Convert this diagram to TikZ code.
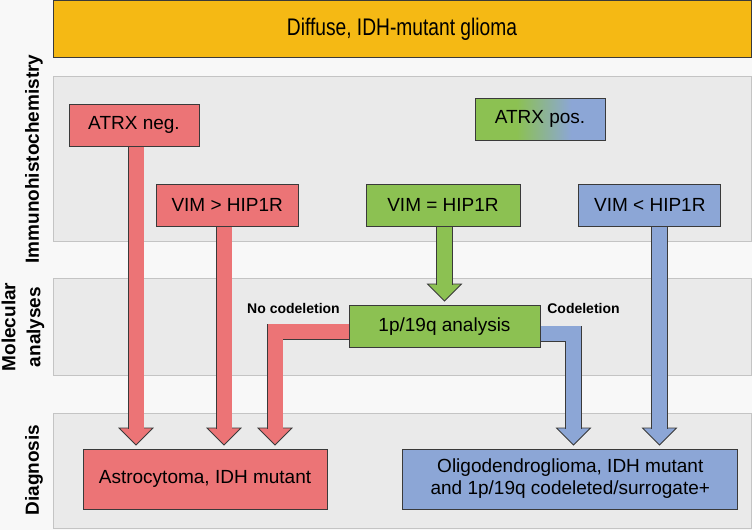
\documentclass[tikz,border=0pt]{standalone}
\usepackage{fontspec}
\setmainfont{Liberation Sans}
\usepackage{graphicx}
\usepackage{tikz}
\usetikzlibrary{calc,positioning}
\definecolor{bgcol}{HTML}{F8F8F8}
\definecolor{panelcol}{HTML}{EAEAEA}
\definecolor{panelline}{HTML}{C4C4C4}
\definecolor{edgecol}{HTML}{3A3A3A}
\definecolor{gliomacol}{HTML}{F5B914}
\definecolor{astrocol}{HTML}{EC7476}
\definecolor{mixcol}{HTML}{8CC152}
\definecolor{oligocol}{HTML}{8CA6D6}
\pgfdeclarehorizontalshading{atrxshade}{100bp}{color(0bp)=(mixcol); color(41bp)=(mixcol); color(62bp)=(oligocol); color(100bp)=(oligocol)}
\pgfdeclarelayer{panels}
\pgfdeclarelayer{arrows}
\pgfsetlayers{panels,arrows,main}
\newcommand{\fathead}[2]{\path[tiphead=#2] (#1) -- ++(-17,-17) -- ++(34,0) -- cycle;}
\tikzset{
    %Define style for boxes
    box/.style={
           rectangle,
           draw=edgecol, line width=0.8pt,
           minimum height=42pt,
           inner sep=0pt,
           font=\fontsize{19}{22}\selectfont,
           align=center},
    astrobox/.style={
           box,
           fill=astrocol},
    mixbox/.style={
           box,
           fill=mixcol},
    oligobox/.style={
           box,
           fill=oligocol},
    panel/.style={
           fill=panelcol,
           draw=panelline, line width=0.8pt},
    rowlabel/.style={
           rotate=90,
           font=\fontsize{19}{25}\selectfont\bfseries,
           align=center},
    branch/.style={
           font=\fontsize{14}{16}\selectfont\bfseries},
    % Define fat arrow style
    fatshaft/.style={
           double=#1,
           double distance=15pt,
           line width=0.8pt,
           draw=edgecol,
           line join=miter},
    tiphead/.style={
           fill=#1,
           draw=edgecol, line width=0.8pt,
           line join=miter}
}
\begin{document}
\begin{tikzpicture}[x=1pt,y=-1pt,node distance=67pt]

\useasboundingbox (0,0) rectangle (752,530);

 %panels
\begin{pgfonlayer}{panels}
\fill[bgcol] (0,0) rectangle (752,530);
\draw[panel] (53,76) rectangle (751,241);
\draw[panel] (53,278) rectangle (751,375);
\draw[panel] (53,413) rectangle (751,528);
\end{pgfonlayer}

 %nodes
\node[box, fill=gliomacol, minimum width=698pt, minimum height=57pt,
  font=\fontsize{24}{28}\selectfont] (glioma) at (402,29) {\scalebox{0.8}[1]{Diffuse, IDH-mutant glioma}};

\node[astrobox, minimum width=130pt] (atrxneg) at (134,125) {ATRX neg.};
\node[box, shading=atrxshade, minimum width=130pt] (atrxpos) at (540,119) {ATRX pos.};

\node[mixbox, minimum width=154pt] (vimeq) at (443,205) {VIM = HIP1R};
\node[astrobox, minimum width=142pt, left=of vimeq] (vimgt) {VIM > HIP1R};
\node[oligobox, minimum width=142pt, right=58pt of vimeq] (vimlt) {VIM < HIP1R};

\node[mixbox, minimum width=191pt, below=79pt of vimeq.south, anchor=north] (p19) at ([xshift=1.5pt]vimeq.south) {1p/19q analysis};

\node[astrobox, minimum width=244pt, minimum height=60pt] (astro) at (205,479) {Astrocytoma, IDH mutant};
\node[oligobox, minimum width=335pt, minimum height=60pt, right=75pt of astro] (oligo) {Oligodendroglioma, IDH mutant\\and 1p/19q codeleted/surrogate+};

\node[branch] (nocodel) at (293.5,308) {No codeletion};
\node[branch] (codel) at (583.5,308) {Codeletion};

\node[rowlabel] (ihc) at (34,159) {Immunohistochemistry};
\node[rowlabel] (mol) at (23,327) {Molecular\\analyses};
\node[rowlabel] (diag) at (34,470) {Diagnosis};

 %arrows
\coordinate (tipA) at (136,445);
\coordinate (tipB) at (224,445);
\coordinate (tipC) at (275,445);
\coordinate (tipD) at (444.5,301);
\coordinate (tipE) at (573.5,445);
\coordinate (tipF) at (659.5,445);

\begin{pgfonlayer}{arrows}
\fathead{tipA}{astrocol}
\draw[fatshaft=astrocol] (atrxneg.south -| tipA) -- ($(tipA)+(0,-16.4)$);
\fathead{tipB}{astrocol}
\draw[fatshaft=astrocol] (vimgt.south -| tipB) -- ($(tipB)+(0,-16.4)$);
\fathead{tipC}{astrocol}
\draw[fatshaft=astrocol] ($(p19.west)+(0,5)$) -| ($(tipC)+(0,-16.4)$);
\fathead{tipD}{mixcol}
\draw[fatshaft=mixcol] (vimeq.south -| tipD) -- ($(tipD)+(0,-16.4)$);
\fathead{tipE}{oligocol}
\draw[fatshaft=oligocol] ($(p19.east)+(0,7)$) -| ($(tipE)+(0,-16.4)$);
\fathead{tipF}{oligocol}
\draw[fatshaft=oligocol] (vimlt.south -| tipF) -- ($(tipF)+(0,-16.4)$);
\end{pgfonlayer}

\end{tikzpicture}
\end{document}
